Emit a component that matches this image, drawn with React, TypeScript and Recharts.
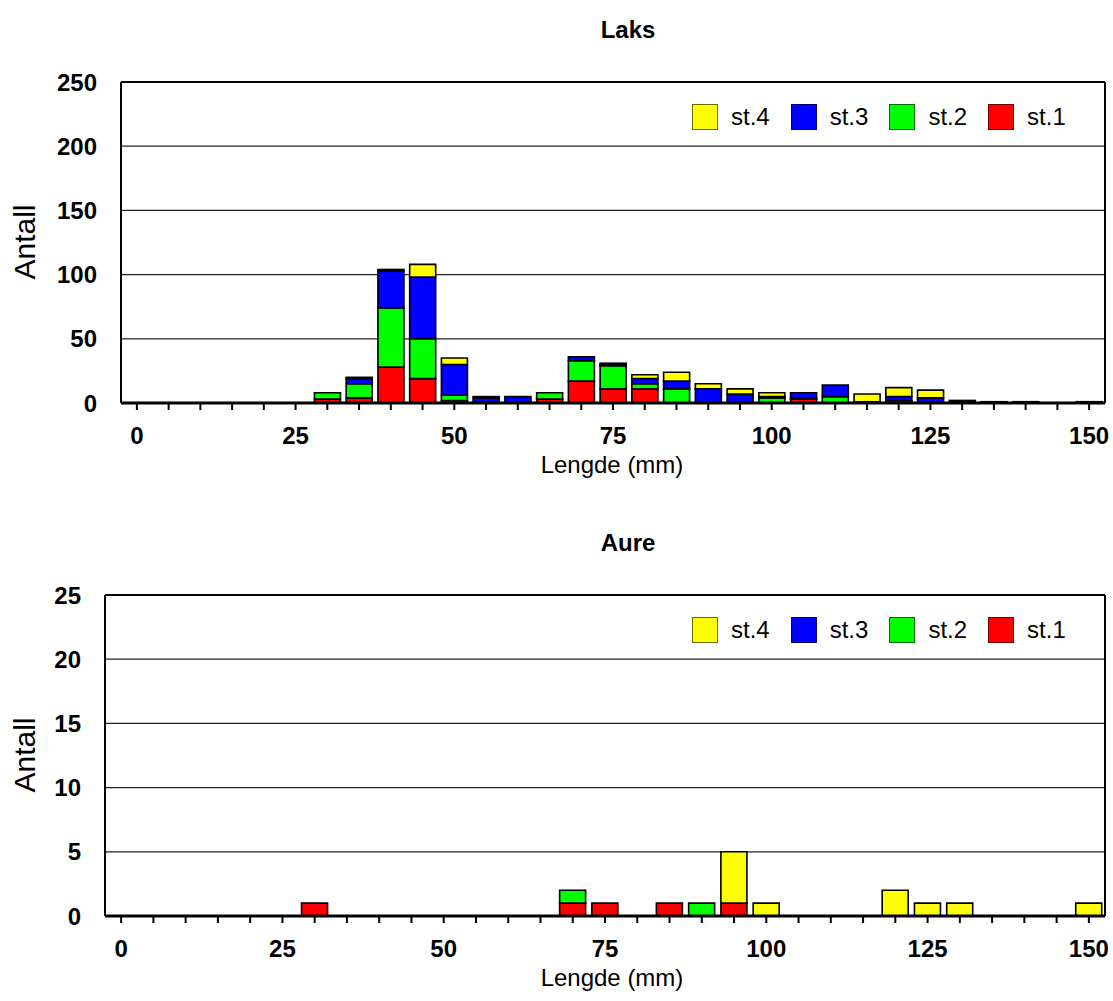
import React from "react";
import {
  BarChart, Bar, XAxis, YAxis, CartesianGrid, ReferenceLine,
} from "recharts";

// length classes (mm)
const lengths = [0, 5, 10, 15, 20, 25, 30, 35, 40, 45, 50, 55, 60, 65, 70, 75, 80, 85, 90, 95, 100, 105, 110, 115, 120, 125, 130, 135, 140, 145, 150];

// Laks, counts per station
const laksSt1 = [0, 0, 0, 0, 0, 0, 3, 4, 28, 19, 2, 1, 1, 3, 17, 11, 11, 0, 0, 0, 0, 3, 0, 0, 2, 0, 1, 1, 1, 0, 1];
const laksSt2 = [0, 0, 0, 0, 0, 0, 5, 11, 46, 31, 4, 0, 0, 5, 16, 18, 4, 11, 0, 0, 4, 1, 5, 1, 0, 0, 0, 0, 0, 0, 0];
const laksSt3 = [0, 0, 0, 0, 0, 0, 0, 4, 29, 48, 24, 3, 4, 0, 3, 1, 4, 6, 11, 7, 1, 4, 9, 0, 3, 4, 1, 0, 0, 0, 0];
const laksSt4 = [0, 0, 0, 0, 0, 0, 0, 1, 1, 10, 5, 1, 0, 0, 0, 1, 3, 7, 4, 4, 3, 0, 0, 6, 7, 6, 0, 0, 0, 0, 0];

// Aure, counts per station
const aureSt1 = [0, 0, 0, 0, 0, 0, 1, 0, 0, 0, 0, 0, 0, 0, 1, 1, 0, 1, 0, 1, 0, 0, 0, 0, 0, 0, 0, 0, 0, 0, 0];
const aureSt2 = [0, 0, 0, 0, 0, 0, 0, 0, 0, 0, 0, 0, 0, 0, 1, 0, 0, 0, 1, 0, 0, 0, 0, 0, 0, 0, 0, 0, 0, 0, 0];
const aureSt3 = [0, 0, 0, 0, 0, 0, 0, 0, 0, 0, 0, 0, 0, 0, 0, 0, 0, 0, 0, 0, 0, 0, 0, 0, 0, 0, 0, 0, 0, 0, 0];
const aureSt4 = [0, 0, 0, 0, 0, 0, 0, 0, 0, 0, 0, 0, 0, 0, 0, 0, 0, 0, 0, 4, 1, 0, 0, 0, 2, 1, 1, 0, 0, 0, 1];

const laksTicks = [0, 50, 100, 150, 200, 250];
const aureTicks = [0, 5, 10, 15, 20, 25];

const stations = [
  { key: "st4", name: "st.4", fill: "#FFFF00", edge: "#6b6b00" },
  { key: "st3", name: "st.3", fill: "#0000FF", edge: "#00006b" },
  { key: "st2", name: "st.2", fill: "#00FF00", edge: "#006b00" },
  { key: "st1", name: "st.1", fill: "#FF0000", edge: "#6b0000" },
];

const FONT = 'Arial, "Liberation Sans", Helvetica, sans-serif';

function buildRows(s1: number[], s2: number[], s3: number[], s4: number[]) {
  return lengths.map((len, i) => ({ len, st1: s1[i], st2: s2[i], st3: s3[i], st4: s4[i] }));
}

const laksData = buildRows(laksSt1, laksSt2, laksSt3, laksSt4);
const aureData = buildRows(aureSt1, aureSt2, aureSt3, aureSt4);

interface PanelProps {
  title: string;
  top: number;
  data: ReturnType<typeof buildRows>;
  ticks: number[];
  yWidth: number;
}

function Panel({ title, top, data, ticks, yWidth }: PanelProps) {
  const yMax = ticks[ticks.length - 1];
  const tickStyle = { fontSize: 24, fontWeight: 700, fill: "#000", fontFamily: FONT };
  return (
    <div style={{ position: "absolute", left: 0, top, width: 1113, height: 488, fontFamily: FONT }}>
      <BarChart
        width={1113}
        height={470}
        data={data}
        margin={{ top: 82, right: 0, bottom: 37, left: 0 }}
        barSize={26}
      >
        <CartesianGrid vertical={false} stroke="#222" strokeWidth={1.3} />
        <XAxis
          dataKey="len"
          interval={0}
          tickFormatter={(v: number) => (v % 25 === 0 ? String(v) : "")}
          tick={tickStyle}
          tickSize={7}
          tickMargin={17}
          tickLine={{ stroke: "#000", strokeWidth: 2 }}
          axisLine={{ stroke: "#000", strokeWidth: 3 }}
          height={30}
        />
        <YAxis
          domain={[0, yMax]}
          ticks={ticks}
          tick={tickStyle}
          tickLine={false}
          tickSize={0}
          tickMargin={24}
          axisLine={{ stroke: "#000", strokeWidth: 2 }}
          width={yWidth}
        />
        <YAxis
          yAxisId="r"
          orientation="right"
          domain={[0, yMax]}
          tick={false}
          tickLine={false}
          axisLine={{ stroke: "#000", strokeWidth: 2 }}
          width={8}
        />
        <ReferenceLine y={yMax} stroke="#000" strokeWidth={2} />
        {[...stations].reverse().map((s) => (
          <Bar
            key={s.key}
            dataKey={s.key}
            name={s.name}
            stackId="a"
            fill={s.fill}
            stroke="#000"
            strokeWidth={1.6}
            isAnimationActive={false}
          />
        ))}
      </BarChart>

      <div style={{ position: "absolute", left: 528, width: 200, top: 16, textAlign: "center", fontSize: 24, fontWeight: 700 }}>
        {title}
      </div>
      <div style={{ position: "absolute", left: 462, width: 300, top: 451, textAlign: "center", fontSize: 24 }}>
        Lengde (mm)
      </div>
      <div
        style={{
          position: "absolute", left: 25, top: 242, fontSize: 30,
          transform: "translate(-50%, -50%) rotate(-90deg)", whiteSpace: "nowrap",
        }}
      >
        Antall
      </div>
      {stations.map((s, i) => (
        <div key={s.key} style={{ position: "absolute", left: 692 + i * 98.7, top: 103, display: "flex", alignItems: "center" }}>
          <div style={{ width: 24, height: 24, background: s.fill, border: `1.5px solid ${s.edge}` }} />
          <span style={{ marginLeft: 13, fontSize: 24, lineHeight: "27px" }}>{s.name}</span>
        </div>
      ))}
    </div>
  );
}

export default function App() {
  return (
    <div style={{ position: "absolute", left: 0, top: 0, width: 1113, height: 1001, background: "#fff", overflow: "hidden" }}>
      <Panel title="Laks" top={0} data={laksData} ticks={laksTicks} yWidth={121} />
      <Panel title="Aure" top={513} data={aureData} ticks={aureTicks} yWidth={105} />
    </div>
  );
}
